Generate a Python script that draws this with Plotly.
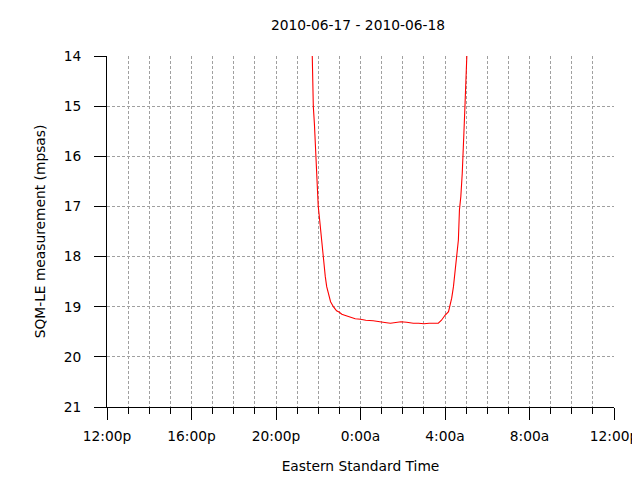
import plotly.graph_objects as go

times = [
    "2010-06-17 21:43", "2010-06-17 21:44", "2010-06-17 21:46", "2010-06-17 21:49",
    "2010-06-17 21:52", "2010-06-17 21:54", "2010-06-17 21:56", "2010-06-17 21:57",
    "2010-06-17 22:00", "2010-06-17 22:03", "2010-06-17 22:07", "2010-06-17 22:10",
    "2010-06-17 22:13", "2010-06-17 22:16", "2010-06-17 22:20", "2010-06-17 22:24",
    "2010-06-17 22:29", "2010-06-17 22:35", "2010-06-17 22:43", "2010-06-17 22:52",
    "2010-06-17 23:00", "2010-06-17 23:07", "2010-06-17 23:15", "2010-06-17 23:22",
    "2010-06-17 23:30", "2010-06-17 23:45", "2010-06-18 00:00", "2010-06-18 00:15",
    "2010-06-18 00:36", "2010-06-18 00:50", "2010-06-18 01:05", "2010-06-18 01:14",
    "2010-06-18 01:25", "2010-06-18 01:43", "2010-06-18 01:55", "2010-06-18 02:11",
    "2010-06-18 02:30", "2010-06-18 02:45", "2010-06-18 03:00", "2010-06-18 03:15",
    "2010-06-18 03:41", "2010-06-18 03:50", "2010-06-18 04:00", "2010-06-18 04:10",
    "2010-06-18 04:14", "2010-06-18 04:19", "2010-06-18 04:24", "2010-06-18 04:28",
    "2010-06-18 04:33", "2010-06-18 04:38", "2010-06-18 04:41", "2010-06-18 04:45",
    "2010-06-18 04:49", "2010-06-18 04:52", "2010-06-18 04:54", "2010-06-18 04:57",
    "2010-06-18 04:59", "2010-06-18 05:02",
]
mpsas = [
    14.00, 14.44, 15.01, 15.34,
    15.81, 16.00, 16.27, 16.64,
    17.00, 17.20, 17.50, 17.74,
    17.97, 18.20, 18.40, 18.60,
    18.77, 18.90, 19.00, 19.08,
    19.11, 19.15, 19.17, 19.19,
    19.21, 19.24, 19.25, 19.27,
    19.28, 19.29, 19.30, 19.32,
    19.33, 19.31, 19.30, 19.31,
    19.33, 19.33, 19.34, 19.33,
    19.33, 19.27, 19.17, 19.10,
    19.00, 18.83, 18.60, 18.33,
    18.00, 17.67, 17.07, 16.80,
    16.34, 15.94, 15.48, 14.94,
    14.41, 14.00,
]

tick_vals = ["2010-06-17 12:00", "2010-06-17 16:00", "2010-06-17 20:00", "2010-06-18 00:00",
             "2010-06-18 04:00", "2010-06-18 08:00", "2010-06-18 12:00"]
tick_text = ["12:00p", "16:00p", "20:00p", "0:00a", "4:00a", "8:00a", "12:00p"]
y_ticks = [14, 15, 16, 17, 18, 19, 20, 21]

font = dict(family="DejaVu Sans, sans-serif", size=13.8, color="#000000")
grid = dict(showgrid=True, gridcolor="#a0a0a0", gridwidth=1, griddash="3px,2px")

W, H = 632, 472  # page body has an 8px margin

fig = go.Figure()
fig.add_trace(go.Scatter(x=times, y=mpsas, mode="lines",
                         line=dict(color="#ff0000", width=1.1), showlegend=False))

fig.update_layout(
    width=W, height=H,
    margin=dict(l=99, r=26, t=48, b=73, autoexpand=False),
    paper_bgcolor="white", plot_bgcolor="white",
    font=font,
    title=dict(text="2010-06-17 - 2010-06-18", x=350 / W, xref="container",
               xanchor="center", y=1 - 17 / H, yref="container", yanchor="middle",
               font=font, automargin=False),
)
fig.update_xaxes(
    type="date", range=[tick_vals[0], tick_vals[-1]],
    tickmode="array", tickvals=tick_vals, ticktext=tick_text,
    ticks="outside", ticklen=12, tickwidth=1, tickcolor="black",
    showline=True, linecolor="black", linewidth=1,
    zeroline=False, automargin=False, **grid,
    minor=dict(dtick=3600000, ticks="outside", ticklen=6, tickcolor="black",
               showgrid=True, gridcolor="#a0a0a0", griddash="3px,2px"),
    ticklabelstandoff=4,
    title=dict(text="Eastern Standard Time", font=font, standoff=18),
)
fig.update_yaxes(
    range=[21, 14], tickmode="array", tickvals=y_ticks,
    ticks="outside", ticklen=12, tickwidth=1, tickcolor="black",
    showline=True, linecolor="black", linewidth=1,
    zeroline=False, automargin=False, **grid,
    ticklabelstandoff=10,
    title=dict(text="SQM-LE measurement (mpsas)", font=font, standoff=14),
)

fig.write_html("out.html")
